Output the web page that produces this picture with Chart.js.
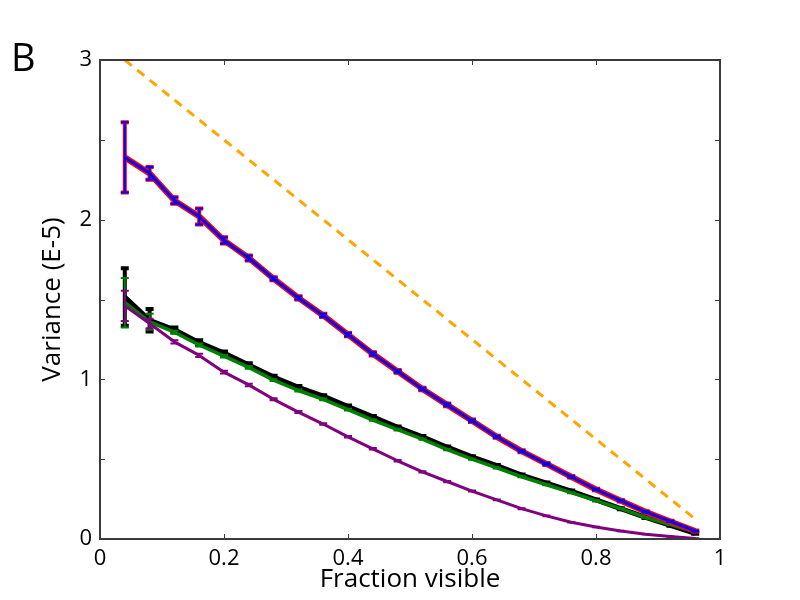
<!DOCTYPE html>
<html lang="en">
<head>
    <meta charset="UTF-8">
    <title>Variance vs fraction visible</title>
    <script src="https://cdn.jsdelivr.net/npm/chart.js"></script>
    <style>
        body { margin: 0; background: #fff; }
        #wrap { width: 800px; height: 600px; }
    </style>
</head>
<body>
    <div id="wrap"><canvas id="varChart" width="800" height="600"></canvas></div>

    <script>
        // fraction of the object that is visible (x axis)
        const fraction = [0.04, 0.08, 0.12, 0.16, 0.20, 0.24, 0.28, 0.32, 0.36, 0.40, 0.44, 0.48,
                          0.52, 0.56, 0.60, 0.64, 0.68, 0.72, 0.76, 0.80, 0.84, 0.88, 0.92, 0.96];

        // variance (E-5)
        const blueMean = [2.39, 2.29, 2.12, 2.02, 1.87, 1.76, 1.63, 1.51, 1.40, 1.28, 1.16, 1.05,
                          0.94, 0.84, 0.74, 0.64, 0.55, 0.47, 0.39, 0.31, 0.24, 0.17, 0.11, 0.05];
        const blueErr = [0.22, 0.04, 0.02, 0.05, 0.02, 0.015, 0.01, 0.01, 0.01, 0.01, 0.01, 0.008,
                         0.008, 0.008, 0.008, 0.006, 0.006, 0.006, 0.005, 0.005, 0.005, 0.004, 0.004, 0.003];

        const blackMean = [1.515, 1.37, 1.31, 1.23, 1.165, 1.09, 1.015, 0.95, 0.895, 0.83, 0.765, 0.70,
                           0.64, 0.575, 0.515, 0.46, 0.40, 0.35, 0.30, 0.245, 0.19, 0.135, 0.085, 0.035];
        const blackErr = [0.18, 0.07, 0.015, 0.015, 0.01, 0.01, 0.008, 0.008, 0.006, 0.006, 0.006, 0.005,
                          0.005, 0.005, 0.004, 0.004, 0.004, 0.004, 0.003, 0.003, 0.003, 0.003, 0.002, 0.002];

        const greenMean = [1.48, 1.36, 1.295, 1.215, 1.145, 1.075, 0.995, 0.93, 0.875, 0.81, 0.745, 0.685,
                           0.625, 0.56, 0.50, 0.445, 0.39, 0.34, 0.29, 0.24, 0.19, 0.135, 0.09, 0.045];
        const greenErr = [0.155, 0.05, 0.01, 0.01, 0.008, 0.008, 0.006, 0.006, 0.006, 0.005, 0.005, 0.005,
                          0.004, 0.004, 0.004, 0.004, 0.003, 0.003, 0.003, 0.003, 0.002, 0.002, 0.002, 0.002];

        const purpleMean = [1.46, 1.35, 1.235, 1.15, 1.045, 0.965, 0.875, 0.795, 0.72, 0.64, 0.565, 0.49,
                            0.42, 0.36, 0.30, 0.245, 0.19, 0.145, 0.105, 0.075, 0.05, 0.03, 0.015, 0.003];
        const purpleErr = [0.095, 0.03, 0.01, 0.01, 0.008, 0.008, 0.006, 0.006, 0.005, 0.005, 0.005, 0.004,
                           0.004, 0.004, 0.003, 0.003, 0.003, 0.002, 0.002, 0.002, 0.002, 0.001, 0.001, 0.001];

        // dashed reference line (two end points)
        const refX = [0.04, 0.96];
        const refY = [3.0, 0.125];

        const xTicks = [0, 0.2, 0.4, 0.6, 0.8, 1];
        const yTicks = [0, 0.5, 1, 1.5, 2, 2.5, 3];

        const pts = (xs, ys) => xs.map((x, i) => ({ x: x, y: ys[i] }));
        const font = '"Open Sans", "DejaVu Sans", sans-serif';

        function series(vals, err, color, width, errWidth) {
            return {
                data: pts(fraction, vals),
                err: err,
                errWidth: errWidth,
                borderColor: color,
                backgroundColor: color,
                borderWidth: width,
                borderJoinStyle: 'round',
                pointRadius: 0,
                tension: 0
            };
        }

        // vertical error bars with caps, drawn right after each line
        const errorBars = {
            id: 'errorBars',
            afterDatasetDraw(chart, args) {
                const ds = chart.data.datasets[args.index];
                if (!ds.err) return;
                const xs = chart.scales.x, ys = chart.scales.y;
                const ctx = chart.ctx;
                ctx.save();
                ctx.strokeStyle = ds.borderColor;
                ctx.lineWidth = ds.errWidth;
                ds.data.forEach((p, i) => {
                    const px = xs.getPixelForValue(p.x);
                    const top = ys.getPixelForValue(p.y + ds.err[i]);
                    const bot = ys.getPixelForValue(p.y - ds.err[i]);
                    ctx.beginPath();
                    ctx.moveTo(px, top); ctx.lineTo(px, bot);
                    ctx.moveTo(px - 4, top); ctx.lineTo(px + 4, top);
                    ctx.moveTo(px - 4, bot); ctx.lineTo(px + 4, bot);
                    ctx.stroke();
                });
                ctx.restore();
            }
        };

        // box frame, inward ticks on all sides and the panel letter
        const frame = {
            id: 'frame',
            afterDraw(chart) {
                const { ctx, chartArea: a, scales } = chart;
                ctx.save();
                ctx.strokeStyle = '#3a3a3a';
                ctx.lineWidth = 1;
                ctx.beginPath();
                xTicks.forEach(v => {
                    const px = Math.round(scales.x.getPixelForValue(v)) + 0.5;
                    ctx.moveTo(px, a.bottom); ctx.lineTo(px, a.bottom - 5);
                    ctx.moveTo(px, a.top); ctx.lineTo(px, a.top + 5);
                });
                yTicks.forEach(v => {
                    const py = Math.round(scales.y.getPixelForValue(v)) + 0.5;
                    ctx.moveTo(a.left, py); ctx.lineTo(a.left + 5, py);
                    ctx.moveTo(a.right, py); ctx.lineTo(a.right - 5, py);
                });
                ctx.stroke();
                ctx.lineWidth = 2;
                ctx.strokeRect(a.left, a.top, a.right - a.left, a.bottom - a.top);

                ctx.fillStyle = '#000';
                ctx.font = '38px ' + font;
                ctx.textBaseline = 'alphabetic';
                ctx.fillText('B', 11, 71);
                ctx.restore();
            }
        };

        const datasets = [
            Object.assign(series(refY, null, '#ffa500', 3, 0), { data: pts(refX, refY), borderDash: [9, 7] }),
            series(blackMean, blackErr, '#000000', 5, 4),
            series(greenMean, greenErr, '#008000', 3.5, 2),
            series(purpleMean, purpleErr, '#800080', 3, 2),
            series(blueMean, blueErr, '#ff0000', 6, 4),
            series(blueMean, blueErr, '#0000ff', 3, 2)
        ];
        // first in the list is drawn first
        datasets.forEach((d, i) => { d.order = datasets.length - i; });

        new Chart(document.getElementById('varChart').getContext('2d'), {
            type: 'line',
            data: { datasets: datasets },
            options: {
                responsive: false,
                animation: false,
                layout: { padding: { top: 60, right: 80, left: 0, bottom: 0 } },
                plugins: { legend: { display: false }, tooltip: { enabled: false } },
                scales: {
                    x: {
                        type: 'linear',
                        min: 0, max: 1,
                        afterFit: s => { s.height = 61; },
                        afterBuildTicks: s => { s.ticks = xTicks.map(v => ({ value: v })); },
                        grid: { display: false, drawTicks: false },
                        border: { display: false },
                        ticks: {
                            padding: 7,
                            color: '#000',
                            font: { family: font, size: 22 },
                            maxRotation: 0,
                            callback: v => String(+v.toFixed(1))
                        },
                        title: {
                            display: true,
                            text: 'Fraction visible',
                            color: '#000',
                            font: { family: font, size: 26 },
                            padding: { top: 0, bottom: 5 }
                        }
                    },
                    y: {
                        type: 'linear',
                        min: 0, max: 3,
                        afterFit: s => { s.width = 100; },
                        afterBuildTicks: s => { s.ticks = yTicks.map(v => ({ value: v })); },
                        grid: { display: false, drawTicks: false },
                        border: { display: false },
                        ticks: {
                            padding: 8,
                            color: '#000',
                            font: { family: font, size: 22 },
                            callback: v => (v % 1 === 0 ? String(v) : '')
                        },
                        title: {
                            display: true,
                            text: 'Variance (E-5)',
                            color: '#000',
                            font: { family: font, size: 26 },
                            padding: { top: 37, bottom: 0 }
                        }
                    }
                }
            },
            plugins: [errorBars, frame]
        });
    </script>
</body>
</html>
